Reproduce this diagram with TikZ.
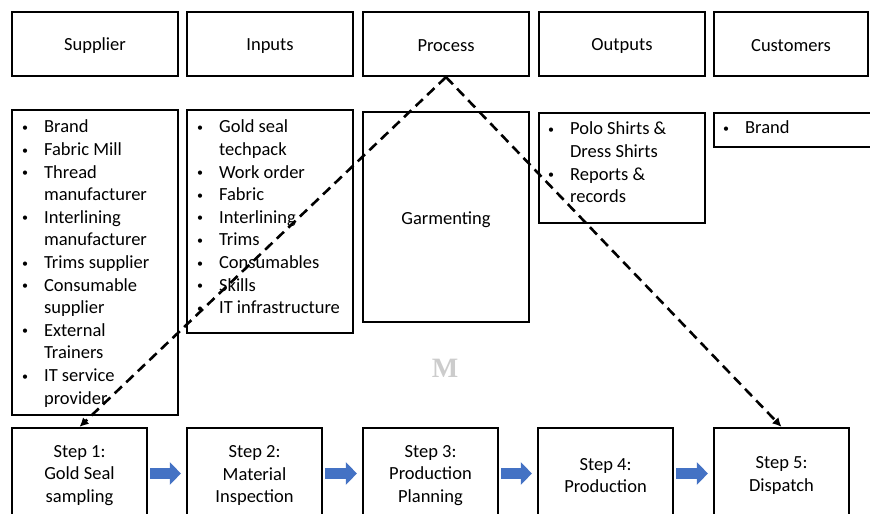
\documentclass[tikz,border=0pt]{standalone}
\usepackage{fontspec}
\setmainfont{Carlito}
\newfontfamily\wmfont{Liberation Serif}
\usetikzlibrary{arrows.meta}
\definecolor{stepblue}{HTML}{4472C4}
\newcommand{\mainsz}{\fontsize{18.5bp}{22.6bp}\selectfont}
\newcommand{\smallbul}{\raisebox{1.5bp}{\fontsize{12bp}{12bp}\selectfont\textbullet}}
\newcommand{\blitem}[1]{\strut\makebox[23bp][l]{\hspace*{1bp}\smallbul}#1}
\newcommand{\contitem}[1]{\strut\hspace*{23bp}#1}
\newcommand{\lowertext}[2]{\raisebox{-#1}[\height][\depth]{#2}}
\begin{document}
\begin{tikzpicture}[x=1bp,y=-1bp,line width=2.2bp,
  box/.style={draw,rectangle,inner sep=0pt,font=\mainsz,align=center},
  listtext/.style={anchor=north west,inner sep=0pt,align=left,font=\mainsz},
  dashconn/.style={line width=2.6bp,dash pattern=on 10bp off 6bp,-{Latex[length=9bp,width=9bp]}},
  flow/.style={draw=stepblue,line width=11bp,-{Triangle[length=11bp,width=22bp]}}]
\useasboundingbox (0,0) rectangle (870,514);
\clip (0,0) rectangle (870,514);
% header row
\node[box,minimum width=166bp,minimum height=64bp] (hsup) at (95,44) {\lowertext{2bp}{Supplier}};
\node[box,minimum width=166bp,minimum height=64bp] (hin) at (270,44) {\lowertext{2bp}{Inputs}};
\node[box,minimum width=166bp,minimum height=64bp] (hproc) at (446,44) {\lowertext{2bp}{Process}};
\node[box,minimum width=166bp,minimum height=64bp] (hout) at (622,44) {\lowertext{2bp}{Outputs}};
\node[box,minimum width=154bp,minimum height=64bp] (hcust) at (791,44) {\lowertext{2bp}{Customers}};
% list boxes
\node[box,minimum width=166bp,minimum height=305bp] (lsup) at (95,262.5) {};
\node[box,minimum width=166bp,minimum height=223bp] (lin) at (270,221.5) {};
\node[box,minimum width=166bp,minimum height=210bp] (garm) at (446,217) {\lowertext{3bp}{Garmenting}};
\node[box,minimum width=166bp,minimum height=110bp] (lout) at (622,168) {};
\node[box,minimum width=166bp,minimum height=34bp] (lcust) at (797,130) {};
% list texts
\node[listtext] (tsup) at (20,116) {\blitem{Brand}\\\blitem{Fabric Mill}\\\blitem{Thread}\\\contitem{manufacturer}\\\blitem{Interlining}\\\contitem{manufacturer}\\\blitem{Trims supplier}\\\blitem{Consumable}\\\contitem{supplier}\\\blitem{External}\\\contitem{Trainers}\\\blitem{IT service}\\\contitem{provider}};
\node[listtext] (tin) at (195,116) {\blitem{Gold seal}\\\contitem{techpack}\\\blitem{Work order}\\\blitem{Fabric}\\\blitem{Interlining}\\\blitem{Trims}\\\blitem{Consumables}\\\blitem{Skills}\\\blitem{IT infrastructure}};
\node[listtext] (tout) at (546,118) {\blitem{Polo Shirts \&}\\\contitem{Dress Shirts}\\\blitem{Reports \&}\\\contitem{records}};
\node[listtext] (tcust) at (721,117) {\blitem{Brand}};
% watermark
\node[text=black!20,font=\wmfont\bfseries\fontsize{28bp}{30bp}\selectfont] (wm) at (445,368) {M};
% steps
\node[box,minimum width=135bp,minimum height=95bp] (s1) at (79.5,475.5) {Step 1:\\Gold Seal\\sampling};
\node[box,minimum width=135bp,minimum height=95bp] (s2) at (254.5,475.5) {Step 2:\\Material\\Inspection};
\node[box,minimum width=135bp,minimum height=95bp] (s3) at (430.5,475.5) {Step 3:\\Production\\Planning};
\node[box,minimum width=135bp,minimum height=95bp] (s4) at (605.5,475.5) {Step 4:\\Production};
\node[box,minimum width=135bp,minimum height=95bp] (s5) at (781.5,475.5) {Step 5:\\Dispatch};
% flow arrows
\draw[flow] ([xshift=2bp,yshift=2bp]s1.east) -- ([xshift=-5bp,yshift=2bp]s2.west);
\draw[flow] ([xshift=2bp,yshift=2bp]s2.east) -- ([xshift=-5bp,yshift=2bp]s3.west);
\draw[flow] ([xshift=2bp,yshift=2bp]s3.east) -- ([xshift=-5bp,yshift=2bp]s4.west);
\draw[flow] ([xshift=2bp,yshift=2bp]s4.east) -- ([xshift=-5bp,yshift=2bp]s5.west);
% dashed connectors
\draw[dashconn] (hproc.south) -- (s1.north);
\draw[dashconn] (hproc.south) -- (s5.north);
\end{tikzpicture}
\end{document}
